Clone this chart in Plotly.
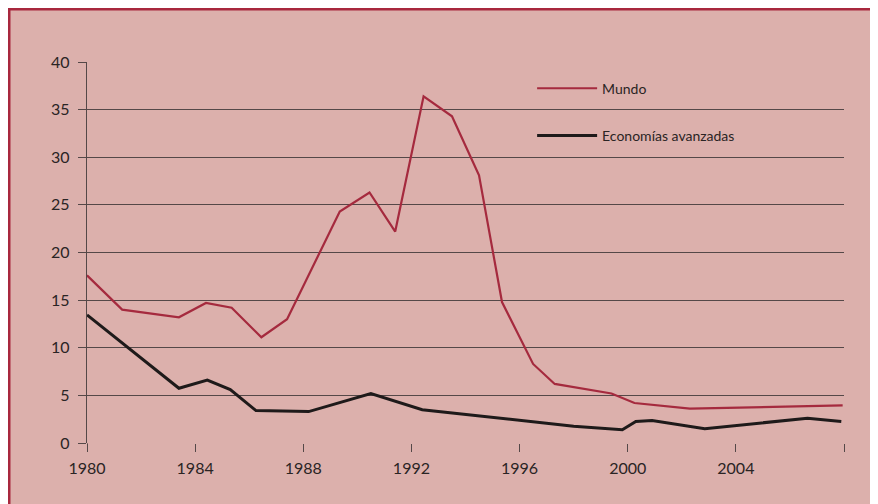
import plotly.graph_objects as go

# Mundo (red) series
mundo_years = [1980.0, 1981.3, 1983.4, 1984.4, 1985.35, 1986.45, 1987.4, 1989.35,
               1990.45, 1991.4, 1992.45, 1993.5, 1994.5, 1995.35, 1996.5, 1997.3,
               1999.4, 2000.25, 2002.3, 2007.95]
mundo_vals = [17.6, 14.0, 13.2, 14.7, 14.2, 11.1, 13.0, 24.3,
              26.3, 22.2, 36.4, 34.3, 28.1, 14.8, 8.3, 6.2,
              5.2, 4.2, 3.6, 3.95]

# Economias avanzadas (black) series
avanz_years = [1980.0, 1983.4, 1984.45, 1985.3, 1986.25, 1988.2, 1990.5, 1992.4,
               1998.0, 1999.8, 2000.3, 2000.9, 2002.85, 2006.65, 2007.9]
avanz_vals = [13.45, 5.75, 6.6, 5.6, 3.4, 3.3, 5.2, 3.5,
              1.75, 1.4, 2.25, 2.35, 1.5, 2.6, 2.25]

x_ticks = [1980, 1984, 1988, 1992, 1996, 2000, 2004, 2008]
x_labels = ["1980", "1984", "1988", "1992", "1996", "2000", "2004", ""]
y_ticks = [0, 5, 10, 15, 20, 25, 30, 35, 40]

bg = "#DCB0AC"
grid = "#554848"
red = "#A52A3E"
font = "Lato"

# plot area in paper pixels (page body margin puts paper at 8,8)
L, T, W, H = 79, 54, 757, 381

fig = go.Figure()
fig.add_trace(go.Scatter(x=mundo_years, y=mundo_vals, mode="lines", name="Mundo",
                         legendgroup="a", line=dict(color=red, width=2.2)))
fig.add_trace(go.Scatter(x=avanz_years, y=avanz_vals, mode="lines",
                         name="Economías avanzadas", legendgroup="b",
                         line=dict(color="#1E1A1A", width=3)))

fig.update_layout(
    width=878, height=504,
    paper_bgcolor=bg, plot_bgcolor=bg,
    margin=dict(l=L, r=878 - L - W, t=T, b=504 - T - H),
    font=dict(family=font, size=16, color="#2A2424"),
    legend=dict(x=0.588, y=0.972, xanchor="left", yanchor="top",
                bgcolor="rgba(0,0,0,0)", traceorder="grouped", tracegroupgap=26,
                itemwidth=60, font=dict(family=font, size=14)),
    xaxis=dict(range=[1980, 2008], tickvals=x_ticks, ticktext=x_labels,
               showgrid=False, zeroline=False, ticks="outside", ticklen=8,
               tickcolor=grid, tickwidth=1.3, showline=False, ticklabelstandoff=3),
    yaxis=dict(range=[0, 40], tickvals=y_ticks, showgrid=True, gridcolor=grid,
               gridwidth=1.3, zeroline=False, ticks="outside", ticklen=8,
               tickcolor=grid, tickwidth=1.3, showline=True, linecolor=grid,
               linewidth=1.3, ticklabelstandoff=5),
    shapes=[
        dict(type="line", xref="x", yref="paper", x0=1980, x1=1980, y0=-8 / H, y1=0,
             line=dict(color=grid, width=1.3)),
        dict(type="rect", xref="paper", yref="paper",
             x0=(1 - L) / W, x1=1.3, y0=-0.5, y1=1 + (T - 1) / H,
             line=dict(color="#A8283E", width=3)),
    ],
)

fig.write_html("out.html")
